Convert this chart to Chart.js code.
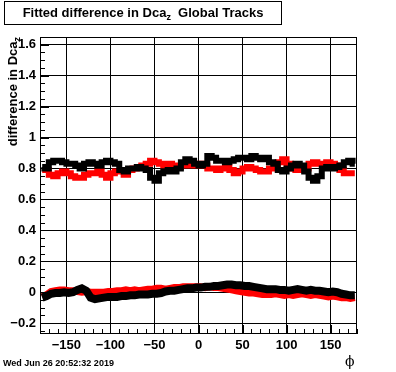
<!DOCTYPE html>
<html>
<head>
<meta charset="utf-8">
<script src="https://cdn.jsdelivr.net/npm/chart.js@4/dist/chart.umd.min.js"></script>
<style>
  body { margin: 0; background: #fff; }
  #wrap { position: relative; width: 396px; height: 372px; font-family: "Liberation Sans", Arial, sans-serif; }
  #titulo {
    position: absolute; left: 4px; top: 1px; width: 276px; height: 22px;
    border: 1px solid #000; font-weight: bold; font-size: 13px;
    line-height: 22px; text-align: center; white-space: pre;
  }
  #ytitulo {
    position: absolute; left: 5px; top: 197px; width: 160px; height: 16px;
    transform: rotate(-90deg); transform-origin: left top;
    font-weight: bold; font-size: 13px; line-height: 16px; text-align: right; white-space: nowrap;
  }
  sub { font-size: 9px; vertical-align: -3px; line-height: 0; }
  #fecha { position: absolute; left: 3px; top: 358px; font-size: 9px; font-weight: bold; }
  #xtitulo { position: absolute; left: 345px; top: 353px; font-size: 14px; font-family: "DejaVu Serif", serif; }
</style>
</head>
<body>
<div id="wrap">
  <canvas id="grafico" width="396" height="372"></canvas>
  <div id="titulo">Fitted difference in Dca<sub>z</sub>  Global Tracks</div>
  <div id="ytitulo">difference in Dca<sub>z</sub></div>
  <div id="fecha">Wed Jun 26 20:52:32 2019</div>
  <div id="xtitulo">ϕ</div>
</div>
<script>
// Centros de los bins en phi (5 grados cada uno)
const phi = Array.from({ length: 72 }, (_, i) => -177.5 + 5 * i);

// Banda superior (~0.8)
const negroArriba = [
  0.81, 0.80, 0.84, 0.85, 0.85, 0.84, 0.83, 0.83, 0.82, 0.80, 0.83, 0.84,
  0.83, 0.82, 0.84, 0.85, 0.84, 0.83, 0.79, 0.78, 0.80, 0.80, 0.81, 0.80,
  0.79, 0.74, 0.72, 0.77, 0.78, 0.79, 0.78, 0.80, 0.84, 0.86, 0.85, 0.83,
  0.82, 0.83, 0.88, 0.87, 0.85, 0.85, 0.84, 0.85, 0.86, 0.87, 0.87, 0.86,
  0.88, 0.87, 0.86, 0.87, 0.84, 0.83, 0.79, 0.78, 0.80, 0.82, 0.83, 0.82,
  0.78, 0.74, 0.72, 0.75, 0.80, 0.81, 0.80, 0.81, 0.82, 0.84, 0.85, 0.83
];
const rojoArriba = [
  0.79, 0.79, 0.76, 0.75, 0.77, 0.78, 0.77, 0.75, 0.74, 0.74, 0.76, 0.77,
  0.77, 0.78, 0.76, 0.74, 0.77, 0.78, 0.78, 0.76, 0.79, 0.80, 0.81, 0.82,
  0.83, 0.85, 0.84, 0.83, 0.82, 0.83, 0.82, 0.81, 0.82, 0.82, 0.83, 0.82,
  0.83, 0.82, 0.80, 0.80, 0.79, 0.80, 0.81, 0.79, 0.77, 0.78, 0.80, 0.81,
  0.80, 0.79, 0.78, 0.78, 0.80, 0.82, 0.84, 0.86, 0.83, 0.80, 0.79, 0.79,
  0.80, 0.83, 0.84, 0.83, 0.83, 0.84, 0.83, 0.82, 0.79, 0.77, 0.77, 0.77
];

// Banda inferior (~0)
const negroAbajo = [
  -0.035, -0.025, -0.01, -0.005, -0.005, 0.0, -0.005, 0.0, 0.015, 0.025, 0.01, -0.035,
  -0.045, -0.04, -0.035, -0.03, -0.03, -0.03, -0.025, -0.025, -0.02, -0.02, -0.015, -0.015,
  -0.015, -0.01, -0.01, -0.005, 0.005, 0.01, 0.01, 0.015, 0.02, 0.025, 0.025, 0.03,
  0.03, 0.035, 0.035, 0.04, 0.04, 0.045, 0.05, 0.05, 0.045, 0.045, 0.04, 0.04,
  0.035, 0.03, 0.025, 0.02, 0.02, 0.02, 0.015, 0.015, 0.01, 0.015, 0.02, 0.015,
  0.01, 0.015, 0.01, 0.01, 0.005, 0.0, 0.005, 0.0, -0.01, -0.015, -0.02, -0.02
];
const rojoAbajo = [
  -0.03, -0.015, 0.005, 0.01, 0.015, 0.015, 0.01, 0.01, 0.005, 0.0, 0.005, 0.0,
  0.0, 0.0, 0.0, 0.005, 0.005, 0.01, 0.01, 0.015, 0.01, 0.015, 0.01, 0.015,
  0.02, 0.02, 0.025, 0.025, 0.02, 0.025, 0.03, 0.03, 0.035, 0.035, 0.035, 0.035,
  0.035, 0.03, 0.035, 0.03, 0.03, 0.025, 0.02, 0.015, 0.01, 0.005, 0.0, -0.005,
  -0.005, -0.01, -0.015, -0.015, -0.015, -0.01, -0.015, -0.02, -0.015, -0.02, -0.015, -0.01,
  -0.015, -0.02, -0.015, -0.02, -0.025, -0.03, -0.025, -0.03, -0.035, -0.035, -0.04, -0.035
];

const xMin = -180, xMax = 180;
const yMin = -0.27, yMax = 1.65;

function serie(valores, color, ancho, escalon) {
  return {
    data: phi.map((x, i) => ({ x, y: valores[i] })),
    borderColor: color,
    backgroundColor: color,
    borderWidth: ancho,
    pointRadius: 0,
    stepped: escalon ? 'middle' : false,
    showLine: true,
    clip: 0
  };
}

// Marcas de los ejes hacia dentro y el marco, estilo ROOT
const marcasRoot = {
  id: 'marcasRoot',
  afterDatasetsDraw(chart) {
    const { ctx, chartArea: a, scales: { x, y } } = chart;
    ctx.save();
    ctx.strokeStyle = '#000';
    ctx.lineWidth = 1;
    ctx.beginPath();
    for (let v = -180; v <= 180; v += 10) {
      const px = Math.round(x.getPixelForValue(v)) + 0.5;
      const largo = v % 50 === 0 ? 9 : 5;
      ctx.moveTo(px, a.bottom);
      ctx.lineTo(px, a.bottom - largo);
    }
    for (let k = -5; k <= 33; k++) {
      const v = k * 0.05;
      const py = Math.round(y.getPixelForValue(v)) + 0.5;
      const largo = k % 4 === 0 ? 9 : 5;
      ctx.moveTo(a.left, py);
      ctx.lineTo(a.left + largo, py);
    }
    ctx.stroke();
    ctx.strokeRect(a.left + 0.5, a.top + 0.5, a.right - a.left - 1, a.bottom - a.top - 1);
    ctx.restore();
  }
};

const etiqueta = v => String(Math.round(v * 10) / 10).replace('-', '\u2212');

new Chart(document.getElementById('grafico').getContext('2d'), {
  type: 'scatter',
  data: {
    datasets: [
      serie(negroArriba, '#000000', 6, true),
      serie(negroAbajo, '#000000', 8, false),
      serie(rojoArriba, '#ff0000', 6, true),
      serie(rojoAbajo, '#ff0000', 7, false)
    ]
  },
  options: {
    responsive: false,
    animation: false,
    devicePixelRatio: 1,
    layout: { padding: { top: 37, right: 39, left: 0, bottom: 0 } },
    plugins: { legend: { display: false }, tooltip: { enabled: false } },
    scales: {
      x: {
        type: 'linear', min: xMin, max: xMax,
        afterFit: s => { s.height = 38; },
        grid: { color: '#000', lineWidth: 1, borderDash: [1, 2], drawTicks: false },
        border: { display: false },
        ticks: {
          stepSize: 50, includeBounds: false, padding: 4, color: '#000',
          font: { family: 'Liberation Sans', size: 13, weight: 'bold' },
          callback: etiqueta, maxRotation: 0
        }
      },
      y: {
        type: 'linear', min: yMin, max: yMax,
        afterFit: s => { s.width = 40; },
        grid: { color: '#000', lineWidth: 1, borderDash: [1, 2], drawTicks: false },
        border: { display: false },
        ticks: {
          stepSize: 0.2, includeBounds: false, padding: 4, color: '#000',
          font: { family: 'Liberation Sans', size: 13, weight: 'bold' },
          callback: etiqueta
        }
      }
    }
  },
  plugins: [marcasRoot]
});
</script>
</body>
</html>
